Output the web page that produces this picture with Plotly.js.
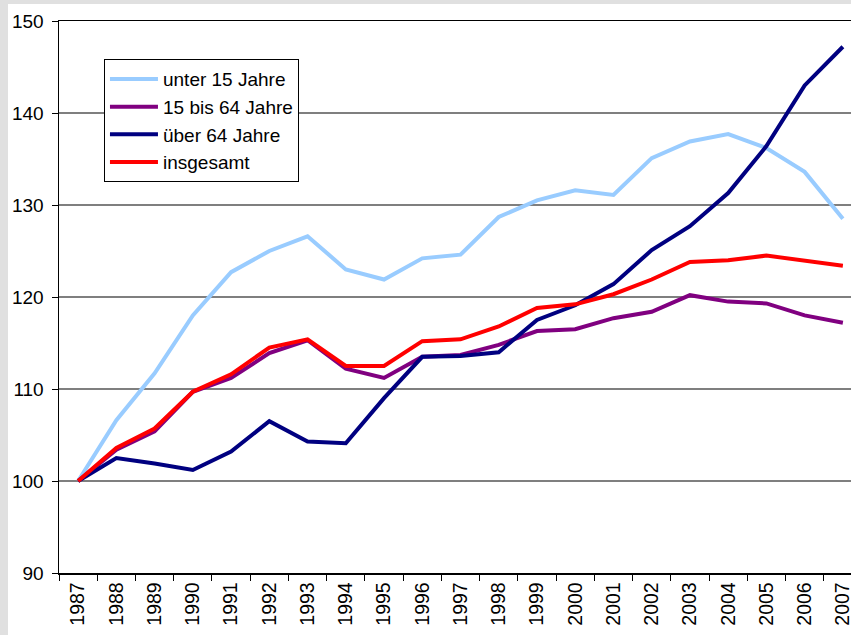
<!DOCTYPE html>
<html>
<head>
<meta charset="utf-8">
<script src="https://cdn.plot.ly/plotly-3.0.1.min.js"></script>
<style>
  html, body { margin: 0; padding: 0; background: #e0e0e0; overflow: hidden; width: 851px; height: 635px; }
  #chart { position: absolute; left: 8px; top: 4px; }
</style>
</head>
<body>
<div id="chart"></div>
<script>
// Index 1987 = 100
var years = ['1987', '1988', '1989', '1990', '1991', '1992', '1993', '1994', '1995', '1996', '1997',
    '1998', '1999', '2000', '2001', '2002', '2003', '2004', '2005', '2006', '2007'];

var unter15 = [100, 106.6, 111.7, 118.0, 122.7, 125.0, 126.6, 123.0, 121.9, 124.2, 124.6,
    128.7, 130.5, 131.6, 131.1, 135.1, 136.9, 137.7, 136.2, 133.6, 128.5];
var von15bis64 = [100, 103.4, 105.4, 109.7, 111.2, 113.9, 115.3, 112.2, 111.2, 113.5, 113.7,
    114.8, 116.3, 116.5, 117.7, 118.4, 120.2, 119.5, 119.3, 118.0, 117.2];
var ueber64 = [100, 102.5, 101.9, 101.2, 103.2, 106.5, 104.3, 104.1, 109.0, 113.5, 113.6,
    114.0, 117.5, 119.1, 121.4, 125.1, 127.7, 131.3, 136.4, 143.0, 147.2];
var insgesamt = [100, 103.6, 105.7, 109.7, 111.6, 114.5, 115.4, 112.5, 112.5, 115.2, 115.4,
    116.8, 118.8, 119.2, 120.3, 121.9, 123.8, 124.0, 124.5, 124.0, 123.4];

var names = ['unter 15 Jahre', '15 bis 64 Jahre', 'über 64 Jahre', 'insgesamt'];
var series = [unter15, von15bis64, ueber64, insgesamt];
var colors = ['#99ccff', '#800080', '#000080', '#ff0000'];

var data = series.map(function (s, i) {
    return {
        x: years,
        y: s,
        name: names[i],
        legendgroup: 'g' + i,
        type: 'scatter',
        mode: 'lines',
        line: { color: colors[i], width: 4 }
    };
});

var font = 'Arial, "Liberation Sans", sans-serif';

var layout = {
    width: 862,
    height: 631,
    margin: { l: 51, r: 8, t: 17, b: 62 },
    paper_bgcolor: '#ffffff',
    plot_bgcolor: '#ffffff',
    font: { family: font, size: 19, color: '#000000' },
    showlegend: true,
    legend: {
        x: 0.056,
        y: 0.931,
        xanchor: 'left',
        yanchor: 'top',
        bgcolor: '#ffffff',
        bordercolor: '#000000',
        borderwidth: 1,
        tracegroupgap: 0,
        itemwidth: 48,
        font: { family: font, size: 19, color: '#000000' }
    },
    xaxis: {
        type: 'category',
        range: [-0.5, 20.5],
        tickangle: -90,
        tickson: 'boundaries',
        ticks: 'outside',
        ticklen: 6,
        tickcolor: '#000000',
        showgrid: false,
        showline: true,
        linecolor: '#000000',
        linewidth: 1.5,
        mirror: true,
        tickfont: { family: font, size: 19.5, color: '#000000' }
    },
    yaxis: {
        range: [90, 150],
        dtick: 10,
        ticks: 'outside',
        ticklen: 6,
        tickcolor: '#000000',
        ticklabelstandoff: 4,
        showgrid: true,
        gridcolor: '#7f7f7f',
        gridwidth: 1.3,
        zeroline: false,
        showline: true,
        linecolor: '#000000',
        linewidth: 1.5,
        tickfont: { family: font, size: 19, color: '#000000' }
    }
};

Plotly.newPlot('chart', data, layout, { displayModeBar: false, staticPlot: true });
</script>
</body>
</html>
